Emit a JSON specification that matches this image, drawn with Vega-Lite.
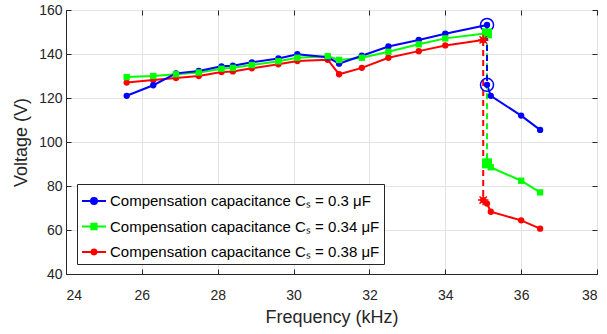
{
  "$schema": "https://vega.github.io/schema/vega-lite/v6.json",
  "width": 531,
  "height": 264,
  "autosize": "none",
  "padding": {"left": 66, "top": 10, "right": 10, "bottom": 60},
  "config": {
    "view": {"stroke": "#262626", "strokeWidth": 1},
    "font": "Liberation Sans",
    "axis": {
      "domainColor": "#262626", "tickColor": "#262626", "labelColor": "#262626", "titleColor": "#262626",
      "labelFont": "Liberation Sans", "titleFont": "Liberation Sans", "labelFontSize": 14, "titleFontSize": 18,
      "titleFontWeight": "normal", "gridColor": "#e3e3e3", "gridWidth": 1, "tickSize": -5, "tickWidth": 1, "domainWidth": 1
    }
  },
  "data": {"values": [
    {"cs": "0.34 μF", "seg": "pre", "f": 25.6, "v": 129.5},
    {"cs": "0.34 μF", "seg": "pre", "f": 26.3, "v": 130.0},
    {"cs": "0.34 μF", "seg": "pre", "f": 26.9, "v": 130.8},
    {"cs": "0.34 μF", "seg": "pre", "f": 27.5, "v": 131.6},
    {"cs": "0.34 μF", "seg": "pre", "f": 28.1, "v": 133.3},
    {"cs": "0.34 μF", "seg": "pre", "f": 28.4, "v": 133.7},
    {"cs": "0.34 μF", "seg": "pre", "f": 28.9, "v": 135.0},
    {"cs": "0.34 μF", "seg": "pre", "f": 29.6, "v": 136.7},
    {"cs": "0.34 μF", "seg": "pre", "f": 30.1, "v": 138.3},
    {"cs": "0.34 μF", "seg": "pre", "f": 30.9, "v": 139.0},
    {"cs": "0.34 μF", "seg": "pre", "f": 31.2, "v": 137.3},
    {"cs": "0.34 μF", "seg": "pre", "f": 31.8, "v": 138.3},
    {"cs": "0.34 μF", "seg": "pre", "f": 32.5, "v": 141.0},
    {"cs": "0.34 μF", "seg": "pre", "f": 33.3, "v": 144.4},
    {"cs": "0.34 μF", "seg": "pre", "f": 34.0, "v": 147.1},
    {"cs": "0.34 μF", "seg": "pre", "f": 35.1, "v": 149.4},
    {"cs": "0.34 μF", "seg": "jump", "f": 35.1, "v": 149.4},
    {"cs": "0.34 μF", "seg": "jump", "f": 35.1, "v": 90.3},
    {"cs": "0.34 μF", "seg": "post", "f": 35.1, "v": 90.3},
    {"cs": "0.34 μF", "seg": "post", "f": 35.2, "v": 88.5},
    {"cs": "0.34 μF", "seg": "post", "f": 36.0, "v": 82.4},
    {"cs": "0.34 μF", "seg": "post", "f": 36.5, "v": 77.1},
    {"cs": "0.38 μF", "seg": "pre", "f": 25.6, "v": 127.0},
    {"cs": "0.38 μF", "seg": "pre", "f": 26.3, "v": 128.2},
    {"cs": "0.38 μF", "seg": "pre", "f": 26.9, "v": 129.1},
    {"cs": "0.38 μF", "seg": "pre", "f": 27.5, "v": 130.0},
    {"cs": "0.38 μF", "seg": "pre", "f": 28.1, "v": 131.8},
    {"cs": "0.38 μF", "seg": "pre", "f": 28.4, "v": 132.1},
    {"cs": "0.38 μF", "seg": "pre", "f": 28.9, "v": 133.5},
    {"cs": "0.38 μF", "seg": "pre", "f": 29.6, "v": 135.3},
    {"cs": "0.38 μF", "seg": "pre", "f": 30.1, "v": 136.8},
    {"cs": "0.38 μF", "seg": "pre", "f": 30.9, "v": 137.4},
    {"cs": "0.38 μF", "seg": "pre", "f": 31.2, "v": 130.8},
    {"cs": "0.38 μF", "seg": "pre", "f": 31.8, "v": 133.7},
    {"cs": "0.38 μF", "seg": "pre", "f": 32.5, "v": 138.3},
    {"cs": "0.38 μF", "seg": "pre", "f": 33.3, "v": 141.3},
    {"cs": "0.38 μF", "seg": "pre", "f": 34.0, "v": 143.9},
    {"cs": "0.38 μF", "seg": "pre", "f": 35.0, "v": 146.4},
    {"cs": "0.38 μF", "seg": "jump", "f": 35.0, "v": 146.4},
    {"cs": "0.38 μF", "seg": "jump", "f": 35.0, "v": 73.6},
    {"cs": "0.38 μF", "seg": "post", "f": 35.0, "v": 73.6},
    {"cs": "0.38 μF", "seg": "post", "f": 35.1, "v": 72.0},
    {"cs": "0.38 μF", "seg": "post", "f": 35.2, "v": 68.3},
    {"cs": "0.38 μF", "seg": "post", "f": 36.0, "v": 64.4},
    {"cs": "0.38 μF", "seg": "post", "f": 36.5, "v": 60.6},
    {"cs": "0.3 μF", "seg": "pre", "f": 25.6, "v": 121.0},
    {"cs": "0.3 μF", "seg": "pre", "f": 26.3, "v": 125.8},
    {"cs": "0.3 μF", "seg": "pre", "f": 26.9, "v": 131.2},
    {"cs": "0.3 μF", "seg": "pre", "f": 27.5, "v": 132.3},
    {"cs": "0.3 μF", "seg": "pre", "f": 28.1, "v": 134.4},
    {"cs": "0.3 μF", "seg": "pre", "f": 28.4, "v": 134.7},
    {"cs": "0.3 μF", "seg": "pre", "f": 28.9, "v": 136.2},
    {"cs": "0.3 μF", "seg": "pre", "f": 29.6, "v": 138.0},
    {"cs": "0.3 μF", "seg": "pre", "f": 30.1, "v": 139.9},
    {"cs": "0.3 μF", "seg": "pre", "f": 30.9, "v": 138.5},
    {"cs": "0.3 μF", "seg": "pre", "f": 31.2, "v": 135.6},
    {"cs": "0.3 μF", "seg": "pre", "f": 31.8, "v": 139.2},
    {"cs": "0.3 μF", "seg": "pre", "f": 32.5, "v": 143.4},
    {"cs": "0.3 μF", "seg": "pre", "f": 33.3, "v": 146.4},
    {"cs": "0.3 μF", "seg": "pre", "f": 34.0, "v": 149.2},
    {"cs": "0.3 μF", "seg": "pre", "f": 35.1, "v": 153.2},
    {"cs": "0.3 μF", "seg": "jump", "f": 35.1, "v": 153.2},
    {"cs": "0.3 μF", "seg": "jump", "f": 35.1, "v": 126.0},
    {"cs": "0.3 μF", "seg": "post", "f": 35.1, "v": 126.0},
    {"cs": "0.3 μF", "seg": "post", "f": 35.2, "v": 121.0},
    {"cs": "0.3 μF", "seg": "post", "f": 36.0, "v": 112.0},
    {"cs": "0.3 μF", "seg": "post", "f": 36.5, "v": 105.5}
  ]},
  "layer": [
    {
      "encoding": {
        "x": {"field": "f", "type": "quantitative", "scale": {"domain": [24, 38], "nice": false},
              "axis": {"values": [24, 26, 28, 30, 32, 34, 36, 38], "title": "Frequency (kHz)", "labelPadding": 19, "titlePadding": 6, "grid": true}},
        "y": {"field": "v", "type": "quantitative", "scale": {"domain": [40, 160], "nice": false},
              "axis": {"values": [40, 60, 80, 100, 120, 140, 160], "title": "Voltage (V)", "labelPadding": 9, "titlePadding": 8, "grid": true}},
        "color": {"field": "cs", "type": "nominal",
          "scale": {"domain": ["0.3 μF", "0.34 μF", "0.38 μF"], "range": ["#0000ff", "#00ff00", "#ff0000"]},
          "legend": {
            "orient": "none", "legendX": 11, "legendY": 174, "title": null,
            "labelExpr": "'Compensation capacitance Cₛ = ' + datum.label",
            "labelFontSize": 15, "labelFont": "Liberation Sans", "labelColor": "#000000", "labelLimit": 400,
            "strokeColor": "#262626", "fillColor": "#ffffff", "padding": 4, "cornerRadius": 0,
            "symbolSize": 576, "symbolStrokeWidth": 2, "labelOffset": 3, "rowPadding": 4.5,
            "symbolType": "M-1,0L1,0",
            "encode": {"symbols": {"update": {
              "shape": {"signal": "datum.value === '0.3 μF' ? 'M-1,0L1,0M-0.25,0A0.25,0.25,0,1,1,0.25,0A0.25,0.25,0,1,1,-0.25,0Z' : datum.value === '0.34 μF' ? 'M-1,0L1,0M-0.22,-0.22L0.22,-0.22L0.22,0.22L-0.22,0.22Z' : 'M-1,0L1,0M-0.2,0A0.2,0.2,0,1,1,0.2,0A0.2,0.2,0,1,1,-0.2,0Z'"},
              "fill": {"scale": "color", "field": "value"},
              "stroke": {"scale": "color", "field": "value"},
              "strokeWidth": {"value": 2},
              "opacity": {"value": 1}
            }}}
          }}
      },
      "layer": [
        {"transform": [{"filter": "datum.seg != 'jump'"}],
         "mark": {"type": "line", "strokeWidth": 2},
         "encoding": {"detail": {"field": "seg"}}},
        {"transform": [{"filter": "datum.seg == 'jump'"}],
         "mark": {"type": "line", "strokeWidth": 2, "strokeDash": [6, 4]},
         "encoding": {"order": {"field": "v", "sort": "descending"}}},
        {"transform": [{"filter": "datum.seg != 'jump' && datum.cs != '0.34 μF'"}],
         "mark": {"type": "circle", "size": 40, "opacity": 1}},
        {"transform": [{"filter": "datum.seg != 'jump' && datum.cs == '0.34 μF'"}],
         "mark": {"type": "square", "size": 40, "opacity": 1}},
        {"transform": [{"filter": "datum.seg == 'jump' && datum.cs == '0.3 μF'"}],
         "mark": {"type": "point", "shape": "circle", "filled": false, "size": 170, "strokeWidth": 1.5, "color": "#0000ff", "opacity": 1}},
        {"transform": [{"filter": "datum.seg == 'jump' && datum.cs == '0.34 μF'"}],
         "mark": {"type": "square", "size": 100, "color": "#00ff00", "opacity": 1}},
        {"transform": [{"filter": "datum.seg == 'jump' && datum.cs == '0.38 μF'"}],
         "mark": {"type": "point", "shape": "M-1,0L1,0M0,-1L0,1M-0.7,-0.7L0.7,0.7M-0.7,0.7L0.7,-0.7", "filled": false, "size": 110, "strokeWidth": 1.5, "color": "#ff0000", "opacity": 1}}
      ]
    },
    {
      "mark": {"type": "point", "opacity": 0},
      "encoding": {
        "x": {"field": "f", "type": "quantitative", "scale": {"domain": [24, 38], "nice": false},
              "axis": {"orient": "top", "values": [24, 26, 28, 30, 32, 34, 36, 38], "labels": false, "grid": false, "domain": false, "title": null}},
        "y": {"field": "v", "type": "quantitative", "scale": {"domain": [40, 160], "nice": false},
              "axis": {"orient": "right", "values": [40, 60, 80, 100, 120, 140, 160], "labels": false, "grid": false, "domain": false, "title": null}}
      }
    }
  ],
  "resolve": {"axis": {"x": "independent", "y": "independent"}}
}
